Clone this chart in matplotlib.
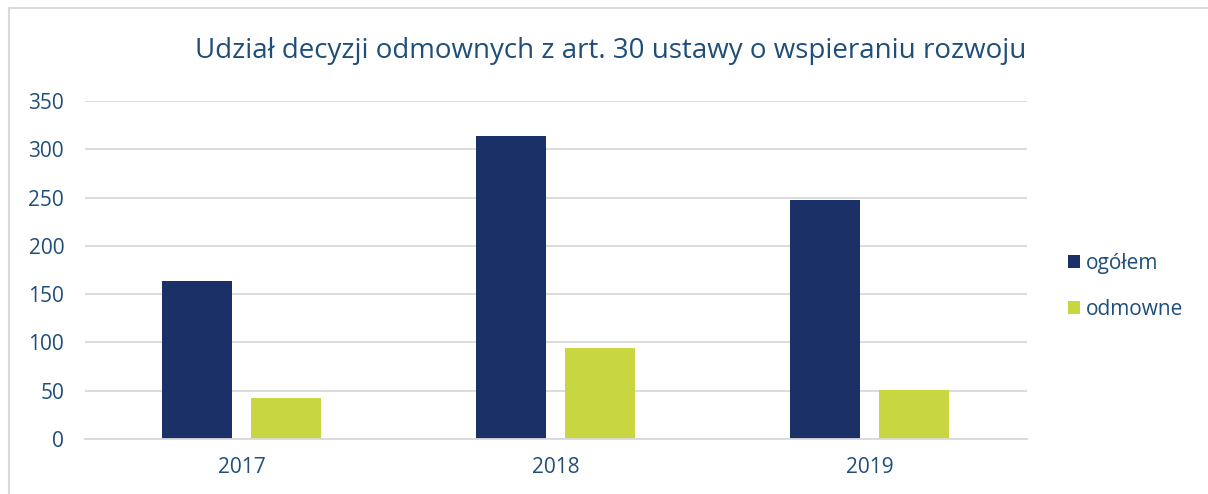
import matplotlib
matplotlib.use("Agg")
import matplotlib.pyplot as plt
from matplotlib.lines import Line2D
import numpy as np

# Data
years = ["2017", "2018", "2019"]
ogolem = [164, 314, 248]
odmowne = [42, 94, 51]
yticks = [0, 50, 100, 150, 200, 250, 300, 350]

TITLE = "Udział decyzji odmownych z art. 30 ustawy o wspieraniu rozwoju"
NAVY = "#1B3067"
LIME = "#C8D641"
TEXT = "#1F4E79"
GRID = "#D9D9D9"

plt.rcParams['font.family'] = ['Open Sans', 'DejaVu Sans']

fig = plt.figure(figsize=(12.08, 4.94), dpi=100)
ax = fig.add_axes([85 / 1208, 1 - 439 / 494, (1027 - 85) / 1208, (439 - 101) / 494])

x = np.arange(len(years))
w = 0.223
ax.bar(x - 0.143, ogolem, width=w, color=NAVY, label="ogółem", zorder=3)
ax.bar(x + 0.141, odmowne, width=w, color=LIME, label="odmowne", zorder=3)

ax.set_xlim(-0.5, len(years) - 0.5)
ax.set_ylim(0, 350)
ax.set_yticks(yticks)
ax.set_xticks(x)
ax.set_xticklabels(years)
ax.yaxis.grid(True, color=GRID, linewidth=1.3, zorder=0)
ax.tick_params(axis='y', length=0, pad=15, labelsize=15, labelcolor=TEXT)
ax.tick_params(axis='x', length=0, pad=13, labelsize=15, labelcolor=TEXT)
for s in ["top", "right", "left"]:
    ax.spines[s].set_visible(False)
ax.spines["bottom"].set_color(GRID)
ax.spines["bottom"].set_linewidth(1.3)
ax.spines["bottom"].set_zorder(4)

fig.text(0.5 * (193 + 1028) / 1208, 1 - 51 / 494, TITLE, ha='center', va='center',
         fontsize=20, color=TEXT)

leg = fig.legend(loc='center left', bbox_to_anchor=(1049 / 1208, 1 - 286 / 494),
                 frameon=False, fontsize=15, handlelength=0.6, handleheight=0.6,
                 handletextpad=0.25, labelspacing=1.2)
for t in leg.get_texts():
    t.set_color(TEXT)

# outer chart frame
fig.add_artist(Line2D([9 / 1208, 1], [1 - 8 / 494, 1 - 8 / 494], color=GRID, linewidth=1.5))
fig.add_artist(Line2D([9 / 1208, 9 / 1208], [0, 1 - 8 / 494], color=GRID, linewidth=1.5))

fig.savefig("out.png", dpi=100)
